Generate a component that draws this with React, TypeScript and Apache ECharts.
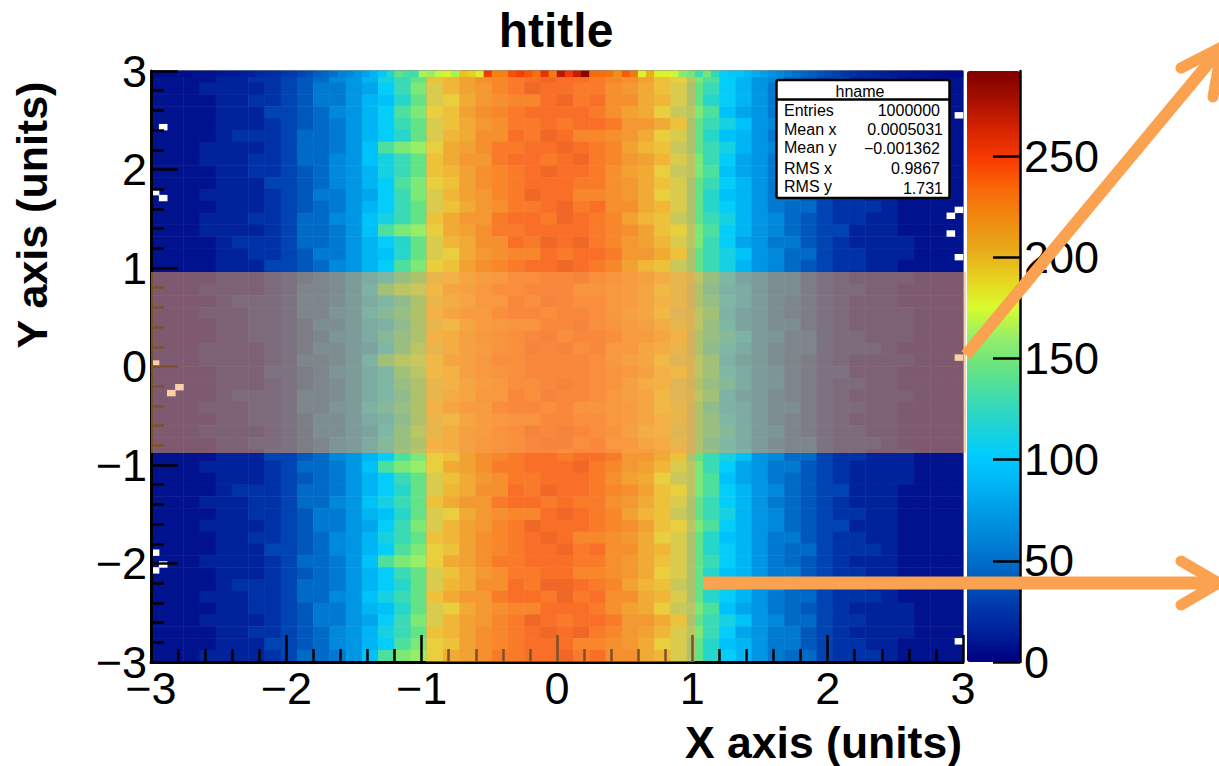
import React, { useEffect, useRef } from "react";
import * as echarts from "echarts";

// Estimated counts on a 2-bin (50 x 50) grid, top row first.
// Each character is one cell: its base-36 digit times 8 gives the count.
const heatRows = [
  "1111223345689beginoqstuvwvvutsqnmjhdb9865442221111",
  "1112222345779adgjloqrtuwvvuusrpnligdb9765432221111",
  "1111223345779bcfilmprsttvwuvsspolifdb9766433321111",
  "1111222445689bdhjmnqstuvvvvusqpmkjhca9765432222111",
  "1111222345679bdgilnprsuuvuvvurrpnigec9866433222111",
  "1111233346679bdfilopssvuwvttsrpmlifcb9775433221111",
  "1112222346679chjkmpqsuuvvwvutqonkigeb9865433221111",
  "1112223346689ceginprruvvuvwutrqoljgda9775432222111",
  "1111223345689beginoqstuvwvvusqpmkjhca9765432222111",
  "1111222445689bdhjmnqstuvvvuusrpnligdb9765432221111",
  "1112222345779adgjloqrtuwvvttsrpmlifcb9775433221111",
  "1111222345679bdgilnprsuuvwuvsspolifdb9766433321111",
  "1112223346689ceginprruvvuwvutqonkigeb9865433221111",
  "1112222346679chjkmpqsuuvvvvutsqnmjhdb9865442221111",
  "1111233346679bdfilopssvuwvwutrqoljgda9775432222111",
  "1111223345779bcfilmprsttvuvvurrpnigec9866433222111",
  "1111222445689bdhjmnqstuvvwvutqonkigeb9865433221111",
  "1111222345679bdgilnprsuuvvwutrqoljgda9775432222111",
  "1112222346679chjkmpqsuuvvvttsrpmlifcb9775433221111",
  "1111233346679bdfilopssvuwvuusrpnligdb9765432221111",
  "1112223346689ceginprruvvuvvusqpmkjhca9765432222111",
  "1111223345779bcfilmprsttvvwutrqoljgda9775432222111",
  "1111223345689beginoqstuvwuvvurrpnigec9866433222111",
  "1112222345779adgjloqrtuwvwuvsspolifdb9766433321111",
  "1112222346679chjkmpqsuuvvvvusqpmkjhca9765432222111",
  "1111222445689bdhjmnqstuvvvvutsqnmjhdb9865442221111",
  "1111222345679bdgilnprsuuvwvutqonkigeb9865433221111",
  "1111233346679bdfilopssvuwvvusqpmkjhca9765432222111",
  "1112223346689ceginprruvvuvttsrpmlifcb9775433221111",
  "1111223345779bcfilmprsttvvuusrpnligdb9765432221111",
  "1112222345779adgjloqrtuwvwvutqonkigeb9865433221111",
  "1111223345689beginoqstuvwwuvsspolifdb9766433321111",
  "1111222445689bdhjmnqstuvvuvvurrpnigec9866433222111",
  "1112222346679chjkmpqsuuvvvwutrqoljgda9775432222111",
  "1111222345679bdgilnprsuuvvvusqpmkjhca9765432222111",
  "1111233346679bdfilopssvuwvvutsqnmjhdb9865442221111",
  "1112223346689ceginprruvvuvuusrpnligdb9765432221111",
  "1111223345779bcfilmprsttvwvutqonkigeb9865433221111",
  "1112222345779adgjloqrtuwvvvutsqnmjhdb9865442221111",
  "1111223345689beginoqstuvwvttsrpmlifcb9775433221111",
  "1111222445689bdhjmnqstuvvwuvsspolifdb9766433321111",
  "1112222346679chjkmpqsuuvvvuusrpnligdb9765432221111",
  "1111222345679bdgilnprsuuvvttsrpmlifcb9775433221111",
  "1111233346679bdfilopssvuwwvutqonkigeb9865433221111",
  "1112223346689ceginprruvvuwuvsspolifdb9766433321111",
  "1111223345779bcfilmprsttvvvusqpmkjhca9765432222111",
  "1112222345779adgjloqrtuwvuvvurrpnigec9866433222111",
  "1111223345689beginoqstuvwvwutrqoljgda9775432222111",
  "1111222445689bdhjmnqstuvvvttsrpmlifcb9775433221111",
  "1112222346679chjkmpqsuuvvwuvsspolifdb9766433321111",
];

// The topmost row of original bins, read left to right.
const topRow = [
  4, 6, 5, 7, 6, 8, 9, 8, 10, 12, 11, 14, 15, 18, 20, 22, 26, 28, 32, 36,
  42, 46, 52, 60, 64, 72, 78, 88, 100, 118, 145, 135, 130, 165, 160, 170, 178, 165, 195, 190,
  180, 250, 222, 222, 242, 248, 240, 230, 255, 225, 272, 250, 268, 288, 232, 230, 228, 215, 238, 226,
  178, 202, 178, 178, 172, 155, 150, 130, 150, 125, 105, 100, 100, 92, 84, 76, 70, 64, 58, 50,
  46, 42, 38, 34, 32, 26, 24, 20, 18, 16, 14, 12, 11, 9, 8, 8, 6, 6, 5, 4,
];

// Empty original bins, as [column, row from the bottom].
const emptyBins = [
  [1, 90], [0, 79], [1, 78], [0, 18], [1, 16], [0, 15], [99, 92], [99, 76], [98, 75],
  [98, 72], [99, 68], [99, 51], [0, 50], [3, 46], [2, 45], [99, 3],
];

const paletteColors = [
  "#000080", "#00209a", "#003cae", "#0062c2", "#007fd4", "#0098e4", "#00b4f4",
  "#00ccff", "#20d4d4", "#40dcac", "#68e480", "#98ee68", "#d8fc2c", "#e8d020",
  "#e8a818", "#f08a10", "#f86808", "#f83c00", "#d82400", "#a81000", "#800000",
];
const colorTicks = [0, 50, 100, 150, 200, 250];
const statsRows = [
  ["Entries", "1000000"],
  ["Mean x", "0.0005031"],
  ["Mean y", "\u22120.001362"],
  ["RMS x", "0.9867"],
  ["RMS y", "1.731"],
];

const FONT = "Liberation Sans";
const ORANGE = "#faa24f";
const minusLabel = (v: number) => String(v).replace("-", "\u2212");

const coarseIdx = Array.from({ length: 50 }, (_, i) => i);
const fineIdx = Array.from({ length: 100 }, (_, i) => i);

function coarseData() {
  const out: number[][] = [];
  heatRows.forEach((row, r) => {
    for (let c = 0; c < row.length; c++) out.push([c, 49 - r, parseInt(row[c], 36) * 8]);
  });
  return out;
}
function topRowData() {
  return topRow.map((v, c) => [c, 99, v]);
}
function emptyData() {
  return emptyBins.map(([c, r]) => [c, r, 0]);
}

function arrowLine(points: number[][], width: number, cap: string) {
  return { type: "polyline", z: 30, shape: { points }, style: { stroke: ORANGE, fill: "none", lineWidth: width, lineCap: cap, lineJoin: "round" } };
}

function statsBox() {
  const els: any[] = [
    { type: "rect", z: 25, shape: { x: 776.5, y: 80, width: 173, height: 118, r: 2 }, style: { fill: "#fff", stroke: "#000", lineWidth: 2.5 } },
    { type: "line", z: 26, shape: { x1: 776, y1: 99.5, x2: 950, y2: 99.5 }, style: { stroke: "#000", lineWidth: 2.5 } },
    { type: "text", z: 26, style: { x: 860, y: 91, text: "hname", font: `16px "${FONT}"`, fill: "#000", align: "center", verticalAlign: "middle" } },
  ];
  const ys = [110.5, 129, 147, 168, 186.5];
  const yVals = [110.5, 129, 148.5, 168, 188.5];
  const rights = [940, 943, 940, 940, 943];
  statsRows.forEach(([k, v], i) => {
    els.push({ type: "text", z: 26, style: { x: 784, y: ys[i], text: k, font: `16px "${FONT}"`, fill: "#000", align: "left", verticalAlign: "middle" } });
    els.push({ type: "text", z: 26, style: { x: rights[i], y: yVals[i], text: v, font: `16px "${FONT}"`, fill: "#000", align: "right", verticalAlign: "middle" } });
  });
  return els;
}

export default function App() {
  const ref = useRef<HTMLDivElement>(null);
  useEffect(() => {
    const chart = echarts.init(ref.current!, undefined, { renderer: "svg" });
    const hiddenCat = (gridIndex: number, data: number[]) => ({ type: "category", gridIndex, data, show: false });
    const plot = { left: 151, top: 71, width: 812, height: 591 };
    const valueAxis = (extra: any) => ({
      type: "value", gridIndex: 0, min: -3, max: 3, interval: 1, z: 10,
      splitLine: { show: false },
      axisLine: { show: true, onZero: false, lineStyle: { color: "#000", width: 3 } },
      axisTick: { show: true, inside: true, length: 27, lineStyle: { color: "#000", width: 2.5 } },
      minorTick: { show: true, splitNumber: 5, length: 13, lineStyle: { color: "#000", width: 2.5 } },
      axisLabel: { fontFamily: FONT, fontSize: 45, color: "#000", margin: 4, formatter: minusLabel },
      ...extra,
    });
    chart.setOption({
      animation: false,
      backgroundColor: "#fff",
      title: {
        text: "htitle", left: 556, top: 6, textAlign: "center", padding: 0,
        textStyle: { fontFamily: FONT, fontSize: 48, fontWeight: "bold", color: "#000" },
      },
      grid: [
        { ...plot, show: true, borderColor: "#222", borderWidth: 1, backgroundColor: "transparent" },
        { ...plot },
        { ...plot },
        { left: 967, top: 71, width: 53, height: 591 },
      ],
      xAxis: [
        valueAxis({ position: "bottom" }),
        hiddenCat(1, coarseIdx),
        hiddenCat(2, fineIdx),
        { type: "category", gridIndex: 3, data: [0], show: false },
      ],
      yAxis: [
        valueAxis({ position: "left" }),
        hiddenCat(1, coarseIdx),
        hiddenCat(2, fineIdx),
        {
          type: "value", gridIndex: 3, min: 0, max: 292, position: "right", z: 10,
          splitLine: { show: false },
          axisLine: { show: true, lineStyle: { color: "#000", width: 2.5 } },
          axisTick: { show: true, inside: true, length: 27, customValues: colorTicks, lineStyle: { color: "#000", width: 2.5 } },
          axisLabel: { fontFamily: FONT, fontSize: 45, color: "#000", margin: 4, customValues: colorTicks },
        },
      ],
      visualMap: [
        {
          type: "continuous", min: 0, max: 292, dimension: 2, left: 967, top: 71, padding: 0,
          itemWidth: 53, itemHeight: 591, calculable: false, hoverLink: false, text: ["", ""], showLabel: false,
          seriesIndex: [0, 1], inRange: { color: paletteColors },
        },
        {
          type: "continuous", show: false, min: 0, max: 1, dimension: 2,
          seriesIndex: [2], inRange: { color: ["#ffffff", "#ffffff"] },
        },
      ],
      series: [
        { type: "heatmap", xAxisIndex: 1, yAxisIndex: 1, data: coarseData(), z: 2, progressive: 0 },
        { type: "heatmap", xAxisIndex: 2, yAxisIndex: 2, data: topRowData(), z: 3, progressive: 0 },
        { type: "heatmap", xAxisIndex: 2, yAxisIndex: 2, data: emptyData(), z: 4, progressive: 0 },
      ],
      graphic: [
        { type: "rect", z: 20, shape: { x: 426, y: 77, width: 269, height: 585 }, style: { fill: ORANGE, opacity: 0.5 } },
        { type: "rect", z: 21, shape: { x: 151, y: 272, width: 815, height: 181 }, style: { fill: ORANGE, opacity: 0.5 } },
        ...statsBox(),
        { type: "text", z: 26, style: { x: 962, y: 742, text: "X axis (units)", font: `bold 44.5px "${FONT}"`, fill: "#000", align: "right", verticalAlign: "middle" } },
        { type: "text", z: 26, x: 32, y: 215, rotation: Math.PI / 2, style: { x: 0, y: 0, text: "Y axis (units)", font: `bold 43px "${FONT}"`, fill: "#000", align: "center", verticalAlign: "middle" } },
        arrowLine([[966, 355], [1222, 47]], 12, "butt"),
        arrowLine([[1181, 68], [1222, 47], [1213, 97]], 11, "round"),
        arrowLine([[703, 583], [1217, 583]], 13, "butt"),
        arrowLine([[1181, 561], [1219, 583], [1181, 605]], 11, "round"),
      ],
    });
    return () => chart.dispose();
  }, []);
  return <div ref={ref} style={{ position: "fixed", left: 0, top: 0, width: 1219, height: 766 }} />;
}
